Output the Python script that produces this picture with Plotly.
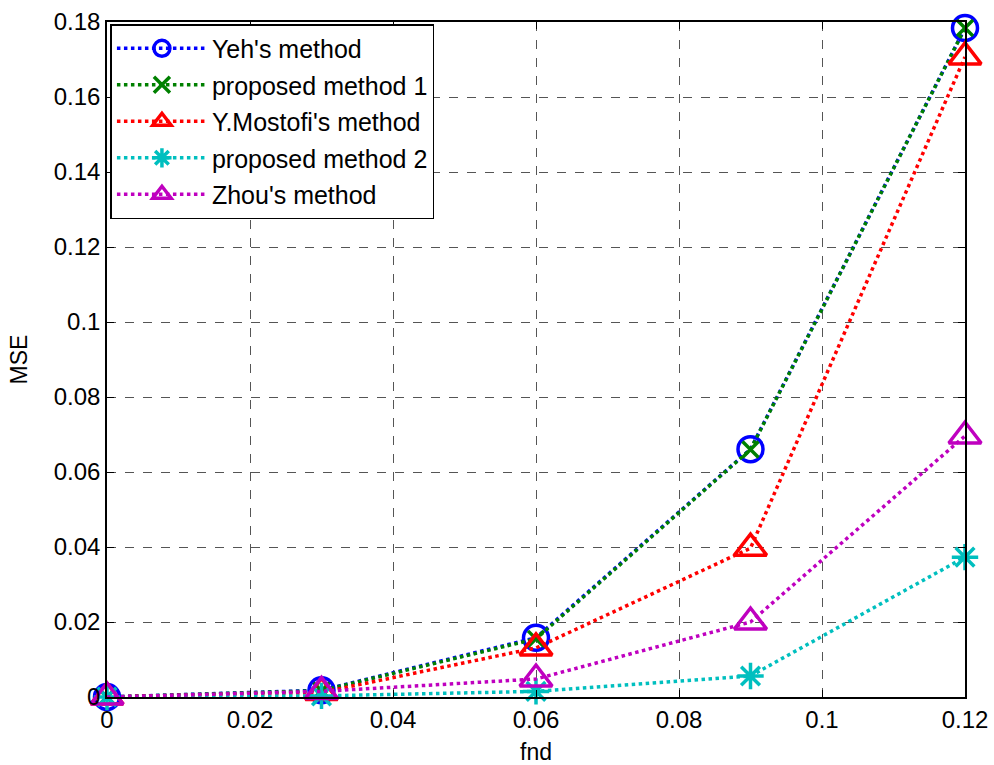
import plotly.graph_objects as go

fnd = [0, 0.03, 0.06, 0.09, 0.12]
yeh = [0.0, 0.0018, 0.0158, 0.0661, 0.1784]
prop1 = [0.0, 0.0017, 0.0155, 0.0660, 0.1784]
mostofi = [0.0, 0.0012, 0.0131, 0.0397, 0.1707]
prop2 = [0.0, 0.0003, 0.0015, 0.0056, 0.0373]
zhou = [0.0, 0.0015, 0.0048, 0.0200, 0.0696]

names = ["Yeh's method", "proposed method 1", "Y.Mostofi's method",
         "proposed method 2", "Zhou's method"]
series = [yeh, prop1, mostofi, prop2, zhou]
colors = ["#0000ff", "#008000", "#ff0000", "#00bfbf", "#bf00bf"]
symbols = ["circle-open", "x-thin-open", "triangle-up-open", "asterisk-open", "triangle-up-open"]
sizes = [25, 16, 28, 22, 28]

fig = go.Figure()
for i, (n, s, c, sym, sz) in enumerate(zip(names, series, colors, symbols, sizes)):
    fig.add_trace(go.Scatter(
        x=fnd, y=s, name=n, mode="lines+markers", legendgroup=f"g{i}",
        line=dict(color=c, width=3.5, dash="dot"),
        marker=dict(symbol=sym, size=sz, color=c, line=dict(color=c, width=3.5)),
        cliponaxis=False,
    ))

axis_common = dict(
    showline=True, linecolor="black", linewidth=1.5, mirror="ticks",
    ticks="inside", ticklen=7, tickcolor="black",
    showgrid=True, gridcolor="#555555", griddash="dash", gridwidth=1,
    zeroline=False, automargin=False,
    tickfont=dict(family="Liberation Sans, Arial", size=24, color="black"),
)

fig.update_layout(
    width=994, height=765,
    margin=dict(l=107, r=29, t=22, b=68),
    paper_bgcolor="white", plot_bgcolor="white",
    font=dict(family="Liberation Sans, Arial", size=22, color="black"),
    xaxis=dict(range=[0, 0.12], tickvals=[0, 0.02, 0.04, 0.06, 0.08, 0.1, 0.12],
               ticktext=["0", "0.02", "0.04", "0.06", "0.08", "0.1", "0.12"],
               title=dict(text="fnd", standoff=14, font=dict(size=23)), **axis_common),
    yaxis=dict(range=[0, 0.18], tickvals=[0, 0.02, 0.04, 0.06, 0.08, 0.1, 0.12, 0.14, 0.16, 0.18],
               ticktext=["0", "0.02", "0.04", "0.06", "0.08", "0.1", "0.12", "0.14", "0.16", "0.18"],
               title=dict(text="MSE", standoff=20, font=dict(size=23)), **axis_common),
    legend=dict(x=0.004, y=0.997, xanchor="left", yanchor="top",
                bgcolor="white", bordercolor="black", borderwidth=1.5,
                font=dict(size=25), tracegroupgap=1, itemwidth=90),
    showlegend=True,
)

fig.write_html("out.html")
